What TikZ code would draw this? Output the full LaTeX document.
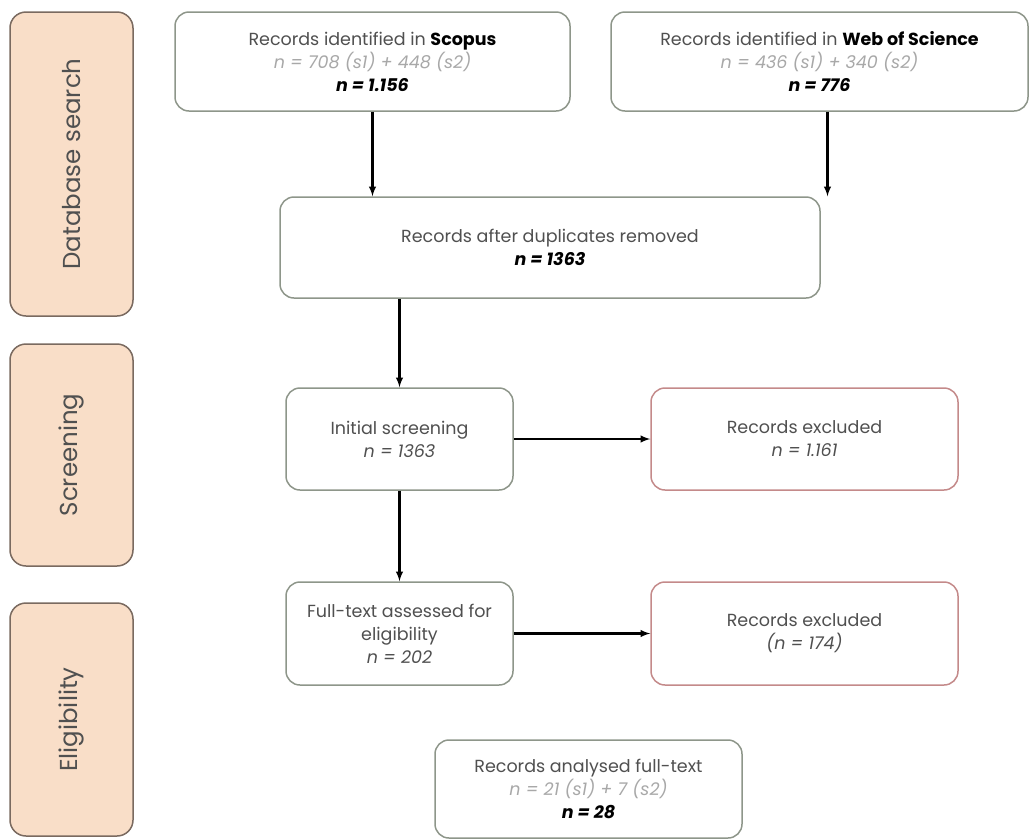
\documentclass[tikz,border=0pt]{standalone}
\usepackage{fontspec}
\setmainfont{Poppins}
\usepackage{xcolor}
\usetikzlibrary{arrows}
\definecolor{stagefill}{HTML}{F9DEC8}
\definecolor{stageline}{HTML}{7A6A60}
\definecolor{boxline}{HTML}{8E968A}
\definecolor{exclline}{HTML}{C48A8A}
\definecolor{maintext}{HTML}{505050}
\definecolor{softtext}{HTML}{A8A8A8}
\tikzset{
  stage/.style={draw=stageline, line width=1.5pt, fill=stagefill, rounded corners=16pt},
  stagetext/.style={rotate=90, text=maintext, font=\fontsize{24.5}{28}\selectfont},
  flowbox/.style={draw=boxline, line width=1.5pt, fill=white, rounded corners=14pt,
    align=center, text=maintext, font=\fontsize{17.5}{23}\selectfont, inner sep=0pt},
  exclbox/.style={flowbox, draw=exclline},
  flowarrow/.style={line width=2.3pt, -latex}
}
\newcommand{\soft}[1]{{\color{softtext}\itshape #1}}
\newcommand{\total}[1]{{\color{black}\bfseries\itshape #1}}
\begin{document}
\begin{tikzpicture}[x=1pt, y=-1pt]
    \useasboundingbox (0,0) rectangle (1035,839);
    % stages
    \node [stage, minimum width=123pt, minimum height=304pt] (dbstage) at (71.5,164) {};
    \node [stagetext] at (dbstage) {Database search};
    \node [stage, minimum width=123pt, minimum height=222pt] (scrstage) at (71.5,455) {};
    \node [stagetext] at (scrstage) {Screening};
    \node [stage, minimum width=123pt, minimum height=233pt] (eligstage) at (71.5,719.5) {};
    \node [stagetext] at (eligstage) {Eligibility};

    % boxes
    \node [flowbox, minimum width=395pt, minimum height=99pt] (scopus) at (372.5,61.5)
      {Records identified in \textbf{\color{black}Scopus}\\ \soft{n = 708 (s1) + 448 (s2)}\\ \total{n = 1.156}};
    \node [flowbox, minimum width=417pt, minimum height=99pt] (wos) at (819.5,61.5)
      {Records identified in \textbf{\color{black}Web of Science}\\ \soft{n = 436 (s1) + 340 (s2)}\\ \total{n = 776}};
    \node [flowbox, minimum width=540pt, minimum height=101pt] (dup) at (550,247.5)
      {Records after duplicates removed\\ \total{n = 1363}};
    \node [flowbox, minimum width=227pt, minimum height=102pt] (init) at (399.5,439)
      {Initial screening\\ {\itshape n = 1363}};
    \node [exclbox, minimum width=307pt, minimum height=102pt] (excla) at (804.5,439)
      {Records excluded\\ {\itshape n = 1.161}};
    \node [flowbox, minimum width=227pt, minimum height=103pt] (full) at (399.5,633.5)
      {Full-text assessed for\\ eligibility\\ {\itshape n = 202}};
    \node [exclbox, minimum width=307pt, minimum height=103pt] (exclb) at (804.5,633.5)
      {Records excluded\\ {\itshape (n = 174)}};
    \node [flowbox, minimum width=307pt, minimum height=98pt] (anal) at (588.5,789)
      {Records analysed full-text\\ \soft{n = 21 (s1) + 7 (s2)}\\ \total{n = 28}};

    % arrows
    \draw [flowarrow] (scopus.south) -- (scopus.south |- dup.north);
    \draw [flowarrow] ([xshift=8pt]wos.south) -- ([xshift=8pt]wos.south |- dup.north);
    \draw [flowarrow] (dup.south -| init.north) -- (init.north);
    \draw [flowarrow] (init.south) -- (full.north);
    \draw [flowarrow] (init.east) -- (excla.west);
    \draw [flowarrow] (full.east) -- (exclb.west);
\end{tikzpicture}
\end{document}
